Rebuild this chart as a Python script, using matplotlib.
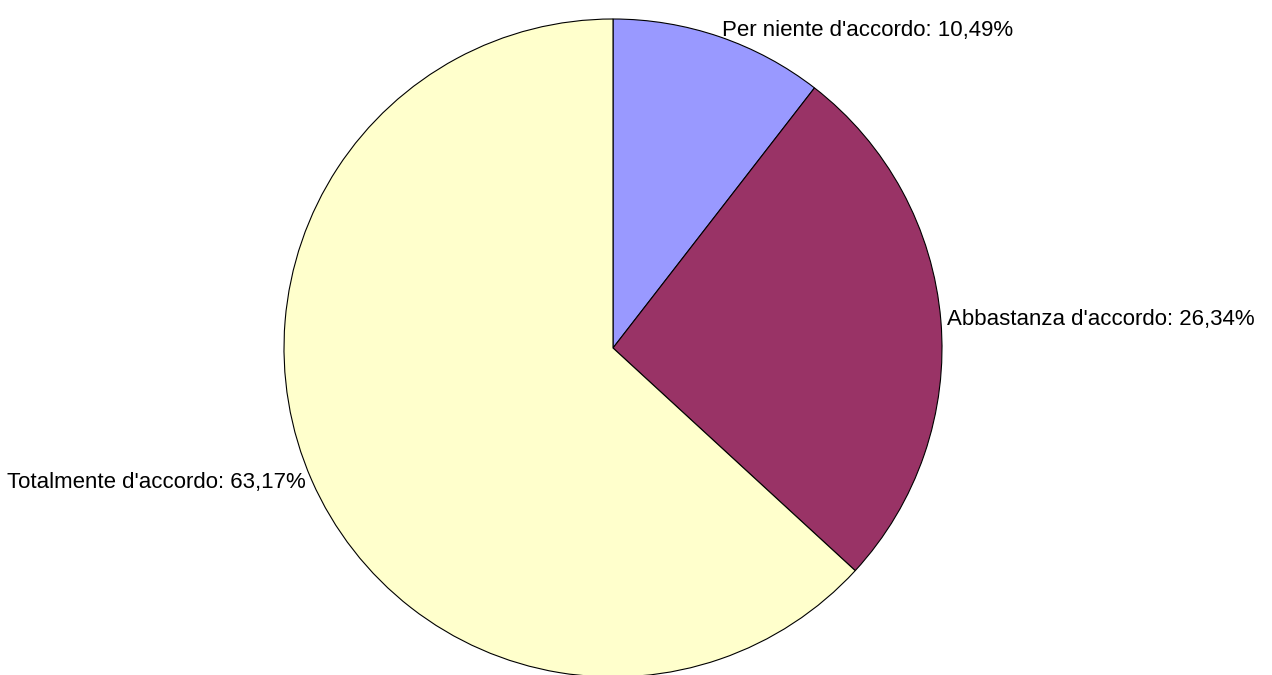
import matplotlib
matplotlib.use("Agg")
import matplotlib.pyplot as plt

plt.rcParams['font.family'] = ['Liberation Sans', 'DejaVu Sans']

categories = ["Per niente d'accordo", "Abbastanza d'accordo", "Totalmente d'accordo"]
values = [10.49, 26.34, 63.17]
colors = ["#9999FF", "#993366", "#FFFFCC"]

labels = [f"{c}: {v:.2f}%".replace(".", ",") for c, v in zip(categories, values)]

cx, cy = 613, 327

fig = plt.figure(figsize=(12.72, 6.75), dpi=100)
ax = fig.add_axes([0, 0, 1, 1])
wedges, texts = ax.pie(values, labels=labels, colors=colors, startangle=90, counterclock=False,
                       center=(cx, cy), radius=329, labeldistance=1.02,
                       wedgeprops=dict(edgecolor="black", linewidth=0.8),
                       textprops=dict(fontsize=16, color="black"))
# pie picks alignment from x > 0, which is wrong with a shifted center
for t in texts:
    x, y = t.get_position()
    t.set_ha("left" if x > cx else "right")
ax.set_xlim(0, 1272)
ax.set_ylim(0, 675)
ax.set_aspect("equal")
ax.axis("off")
fig.savefig("out.png", dpi=100)
